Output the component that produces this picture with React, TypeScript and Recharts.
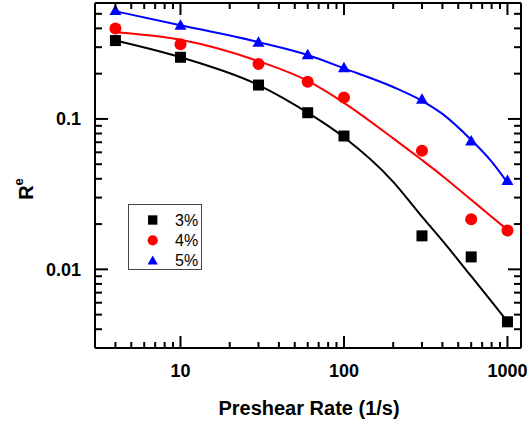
import {
    ComposedChart, Line, Scatter, XAxis, YAxis, Legend,
} from 'recharts'

// Measured points (preshear rate in 1/s, R^e)
const rates = [4, 10, 30, 60, 100, 300, 600, 1000]
const re3 = [0.332, 0.257, 0.168, 0.110, 0.077, 0.0167, 0.0121, 0.00448]
const re4 = [0.399, 0.314, 0.232, 0.177, 0.139, 0.0615, 0.0215, 0.0181]
const re5 = [0.525, 0.42, 0.324, 0.267, 0.219, 0.135, 0.0714, 0.039]

// Fit curves
const fitRates = [4, 10, 30, 60, 100, 200, 300, 400, 600, 800, 1000]
const fit3 = [0.332, 0.257, 0.168, 0.110, 0.0755, 0.0382, 0.0224, 0.0155, 0.0090, 0.0061, 0.0045]
const fit4 = [0.377, 0.336, 0.242, 0.179, 0.128, 0.0743, 0.0533, 0.0418, 0.0290, 0.0224, 0.0183]
const fit5 = [0.52, 0.42, 0.324, 0.266, 0.217, 0.163, 0.132, 0.108, 0.0725, 0.052, 0.0377]

const seriesNames = ['3%', '4%', '5%']
const seriesColors = ['#000000', '#FF0000', '#0000FF']

const xTicks = [4, 5, 6, 7, 8, 9, 10, 20, 30, 40, 50, 60, 70, 80, 90, 100, 200, 300, 400, 500, 600, 700, 800, 900, 1000]
const xLabels = [10, 100, 1000]
const yTicks = [0.004, 0.005, 0.006, 0.007, 0.008, 0.009, 0.01, 0.02, 0.03, 0.04, 0.05, 0.06, 0.07, 0.08, 0.09, 0.1, 0.2, 0.3, 0.4, 0.5]
const yLabels = [0.01, 0.1]

const FONT = '"Liberation Sans", Arial, sans-serif'

const toPoints = (xs: number[], ys: number[]) => xs.map((x, i) => ({ x, y: ys[i] }))

const markers = [
    (cx: number, cy: number, k = 1) => (
        <rect x={cx - 5.5 * k} y={cy - 5.5 * k} width={11 * k} height={11 * k} fill="#000" />
    ),
    (cx: number, cy: number, k = 1) => <circle cx={cx} cy={cy} r={6 * k} fill="#FF0000" />,
    (cx: number, cy: number, k = 1) => (
        <polygon
            points={`${cx},${cy - 6 * k} ${cx - 6 * k},${cy + 4.5 * k} ${cx + 6 * k},${cy + 4.5 * k}`}
            fill="#0000FF"
        />
    ),
]

const BottomTick = ({ x, y, payload }: any) => {
    const major = xLabels.includes(payload.value)
    return (
        <g>
            <line x1={x} x2={x} y1={y} y2={y - (major ? 12 : 6)} stroke="#000" strokeWidth={2} />
            {major && (
                <text x={x} y={y + 29} textAnchor="middle" fontFamily={FONT} fontWeight="bold" fontSize={18} fill="#000">
                    {payload.value}
                </text>
            )}
        </g>
    )
}

const TopTick = ({ x, y, payload }: any) => {
    const major = xLabels.includes(payload.value)
    return <line x1={x} x2={x} y1={y} y2={y + (major ? 12 : 6)} stroke="#000" strokeWidth={2} />
}

const LeftTick = ({ x, y, payload }: any) => {
    const major = yLabels.includes(payload.value)
    return (
        <g>
            <line x1={x} x2={x + (major ? 13 : 7)} y1={y} y2={y} stroke="#000" strokeWidth={2} />
            {major && (
                <text x={x - 14} y={y} dy="0.36em" textAnchor="end" fontFamily={FONT} fontWeight="bold" fontSize={18} fill="#000">
                    {payload.value}
                </text>
            )}
        </g>
    )
}

const RightTick = ({ x, y, payload }: any) => {
    const major = yLabels.includes(payload.value)
    return <line x1={x} x2={x - (major ? 13 : 7)} y1={y} y2={y} stroke="#000" strokeWidth={2} />
}

const LegendBox = () => (
    <svg width={74} height={66} style={{ display: 'block' }}>
        <rect x={0.5} y={0.5} width={73} height={65} fill="#fff" stroke="#444" strokeWidth={1} />
        {seriesNames.map((name, i) => (
            <g key={name}>
                {markers[i](24.7, 16 + i * 20.3, 0.85)}
                <text x={47} y={21.8 + i * 20.3} fontFamily={FONT} fontSize={16} fill="#000">
                    {name}
                </text>
            </g>
        ))}
    </svg>
)

const scatterData = [toPoints(rates, re3), toPoints(rates, re4), toPoints(rates, re5)]
const fitData = [toPoints(fitRates, fit3), toPoints(fitRates, fit4), toPoints(fitRates, fit5)]

export default function App() {
    return (
        <div style={{ position: 'absolute', left: 0, top: 0, width: 530, height: 423, background: '#fff' }}>
            <ComposedChart width={530} height={423} margin={{ top: 0, right: 0, bottom: 0, left: 0 }}>
                <XAxis
                    xAxisId="b" dataKey="x" type="number" scale="log" domain={[3, 1210]} allowDataOverflow
                    ticks={xTicks} interval={0} tick={<BottomTick />} tickLine={false} tickSize={0} tickMargin={0}
                    axisLine={{ stroke: '#000', strokeWidth: 2 }} height={75}
                />
                <XAxis
                    xAxisId="t" orientation="top" dataKey="x" type="number" scale="log" domain={[3, 1210]} allowDataOverflow
                    ticks={xTicks} interval={0} tick={<TopTick />} tickLine={false} tickSize={0} tickMargin={0}
                    axisLine={{ stroke: '#000', strokeWidth: 2 }} height={3}
                />
                <YAxis
                    yAxisId="l" type="number" scale="log" domain={[0.003, 0.59]} allowDataOverflow
                    ticks={yTicks} interval={0} tick={<LeftTick />} tickLine={false} tickSize={0} tickMargin={0}
                    axisLine={{ stroke: '#000', strokeWidth: 2 }} width={95}
                />
                <YAxis
                    yAxisId="r" orientation="right" type="number" scale="log" domain={[0.003, 0.59]} allowDataOverflow
                    ticks={yTicks} interval={0} tick={<RightTick />} tickLine={false} tickSize={0} tickMargin={0}
                    axisLine={{ stroke: '#000', strokeWidth: 2 }} width={9}
                />
                <Legend
                    layout="vertical" align="center" verticalAlign="middle"
                    wrapperStyle={{ left: 128, top: 204, width: 74, height: 66 }}
                    content={() => <LegendBox />}
                />
                {fitData.map((d, i) => (
                    <Line
                        key={'fit' + i} xAxisId="b" yAxisId="l" data={d} dataKey="y" type="monotone"
                        stroke={seriesColors[i]} strokeWidth={2} dot={false} activeDot={false}
                        isAnimationActive={false} legendType="none"
                    />
                ))}
                {scatterData.map((d, i) => (
                    <Scatter
                        key={'pts' + i} name={seriesNames[i]} xAxisId="b" yAxisId="l" data={d} dataKey="y"
                        fill={seriesColors[i]} isAnimationActive={false}
                        shape={(p: any) => markers[i](p.cx, p.cy)}
                    />
                ))}
            </ComposedChart>
            {/* axis titles */}
            <svg width={530} height={423} style={{ position: 'absolute', left: 0, top: 0, pointerEvents: 'none' }}>
                <text
                    transform="translate(33,189) rotate(-90)" textAnchor="middle"
                    fontFamily={FONT} fontWeight="bold" fontSize={20} fill="#000"
                >
                    R<tspan fontSize={13} dy={-10}>e</tspan>
                </text>
                <text x={309} y={415} textAnchor="middle" fontFamily={FONT} fontWeight="bold" fontSize={20} fill="#000">
                    Preshear Rate (1/s)
                </text>
            </svg>
        </div>
    )
}
